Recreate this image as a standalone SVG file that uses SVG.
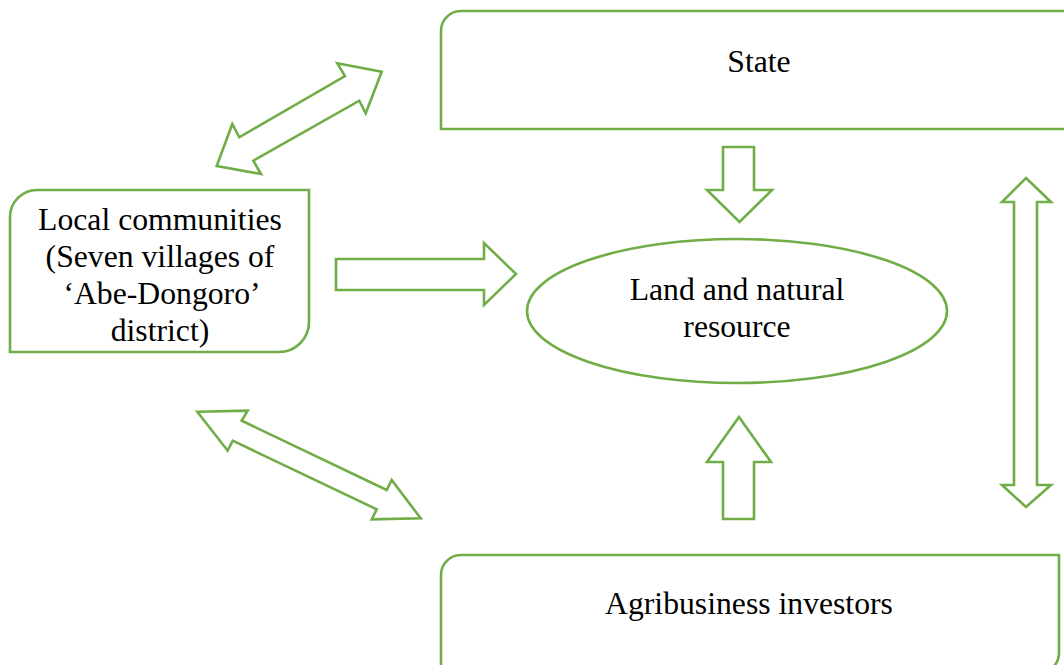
<svg xmlns="http://www.w3.org/2000/svg" width="1064" height="665" viewBox="0 0 1064 665">
  <style>
    .shape { fill: #ffffff; stroke: #70AD47; stroke-width: 2.6; stroke-linejoin: miter; }
    .label { font-family: "Liberation Serif", "Times New Roman", serif; font-size: 31.7px; fill: #000000; text-anchor: middle; }
  </style>
  <rect x="0" y="0" width="1064" height="665" fill="#ffffff"/>

  <!-- actors and resource -->
  <g id="state">
    <path class="shape" d="M441,129 V31 A20,20 0 0 1 461,11 H1080 V129 Z"/>
    <text class="label" x="759" y="72">State</text>
  </g>

  <g id="local-communities">
    <path class="shape" d="M10,352 V217 A27,27 0 0 1 37,190 H309 V322 A30,30 0 0 1 279,352 Z"/>
    <text class="label" x="160" y="230">Local communities</text>
    <text class="label" x="160" y="267">(Seven villages of</text>
    <text class="label" x="162" y="304">‘Abe-Dongoro’</text>
    <text class="label" x="160" y="341">district)</text>
  </g>

  <g id="land-resource">
    <ellipse class="shape" cx="737" cy="311" rx="210" ry="72"/>
    <text class="label" x="737" y="300">Land and natural</text>
    <text class="label" x="737" y="337">resource</text>
  </g>

  <g id="agribusiness-investors">
    <path class="shape" d="M441,680 V575 A20,20 0 0 1 461,555 H1059 V653 A20,20 0 0 1 1039,673 H441 Z"/>
    <text class="label" x="749" y="614">Agribusiness investors</text>
  </g>

  <!-- block arrows between actors -->
  <g id="connectors">
    <polygon class="shape" points="723,147 754,147 754,190 772,190 739.5,222 707,190 723,190"/>
    <polygon class="shape" points="739,417 771,462 754,462 754,519 723,519 723,462 707,462"/>
    <polygon class="shape" points="336,259 484,259 484,243 516,274 484,305 484,290 336,290"/>
    <polygon class="shape" points="1026,178 1051,202 1037,202 1037,485 1051,485 1026,507 1002,485 1014,485 1014,202 1002,202"/>
    <polygon class="shape" points="381.7,71.7 365.7,113.3 359.3,100.7 253.3,160.7 261,174 216.7,166 232.3,124 239.3,137.3 345,76 337.3,63.3"/>
    <polygon class="shape" points="197.3,411.7 247.7,410.7 241.7,420.7 386.7,490 391.7,480 420.7,518.3 371.7,519.3 376.7,509.3 232.7,440.7 227.7,450.7"/>
  </g>
</svg>
